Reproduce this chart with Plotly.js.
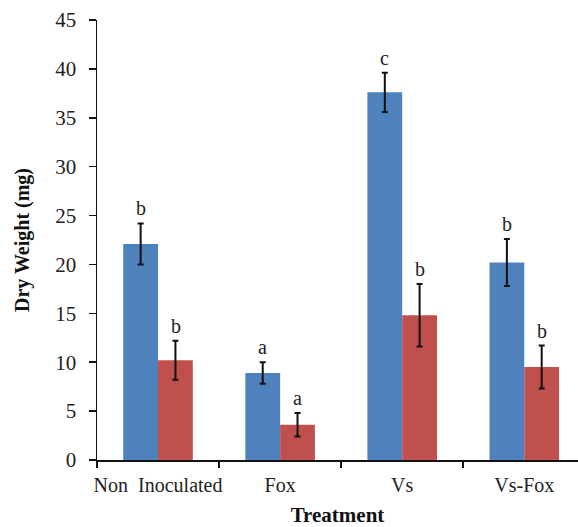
<!DOCTYPE html>
<html>
<head>
<meta charset="utf-8">
<script src="https://cdn.plot.ly/plotly-3.0.1.min.js"></script>
<style>html,body{margin:0;padding:0;background:#fff;}#chart{width:578px;height:527px;}</style>
</head>
<body>
<div id="chart"></div>
<script>
const categories = ["Non  Inoculated", "Fox", "Vs", "Vs-Fox"];
const seriesA = [22.1, 8.9, 37.6, 20.2];
const errorA = [2.1, 1.1, 2.0, 2.4];
const lettersA = ["b", "a", "c", "b"];
const seriesB = [10.2, 3.6, 14.8, 9.5];
const errorB = [2.0, 1.2, 3.2, 2.2];
const lettersB = ["b", "a", "b", "b"];
const yTicks = [0, 5, 10, 15, 20, 25, 30, 35, 40, 45];

const serif = "Liberation Serif, Times New Roman, serif";
const errStyle = {type: "data", visible: true, color: "#111", thickness: 2, width: 3};

const traces = [
  {type: "bar", x: categories, y: seriesA, marker: {color: "#4F81BD"},
   error_y: Object.assign({array: errorA}, errStyle), hoverinfo: "none"},
  {type: "bar", x: categories, y: seriesB, marker: {color: "#C0504D"},
   error_y: Object.assign({array: errorB}, errStyle), hoverinfo: "none"}
];

const annotations = [];
categories.forEach((c, i) => {
  annotations.push({x: i - 0.143, y: seriesA[i] + errorA[i], xref: "x", yref: "y", text: lettersA[i],
    showarrow: false, yanchor: "bottom", yshift: 2, font: {family: serif, size: 20, color: "#222"}});
  annotations.push({x: i + 0.143, y: seriesB[i] + errorB[i], xref: "x", yref: "y", text: lettersB[i],
    showarrow: false, yanchor: "bottom", yshift: 2, font: {family: serif, size: 20, color: "#222"}});
});

const layout = {
  width: 578, height: 527,
  margin: {l: 97, r: 0, t: 20, b: 67},
  paper_bgcolor: "#fff", plot_bgcolor: "#fff",
  showlegend: false,
  barmode: "group",
  bargap: 0.43,
  bargroupgap: 0,
  font: {family: serif, size: 20, color: "#222"},
  xaxis: {
    type: "category",
    range: [-0.5, 3.44],
    tickson: "boundaries",
    tickangle: 0,
    ticks: "outside", ticklen: 6, tickwidth: 1.5, tickcolor: "#111",
    showline: true, linecolor: "#111", linewidth: 1.5,
    showgrid: false, zeroline: false,
    ticklabelstandoff: 6,
    tickfont: {family: serif, size: 20, color: "#222"},
    title: {text: "<b>Treatment</b>", font: {family: serif, size: 21, color: "#111"}, standoff: 14}
  },
  yaxis: {
    range: [0, 45],
    tickvals: yTicks,
    ticktext: yTicks.map(String),
    ticks: "outside", ticklen: 7, tickwidth: 1.5, tickcolor: "#111",
    showline: true, linecolor: "#111", linewidth: 1.5,
    showgrid: false, zeroline: false,
    ticklabelstandoff: 8,
    tickfont: {family: serif, size: 21, color: "#222"},
    title: {text: "<b>Dry Weight (mg)</b>", font: {family: serif, size: 20, color: "#111"}, standoff: 20}
  },
  annotations: annotations
};

Plotly.newPlot("chart", traces, layout, {staticPlot: true, displayModeBar: false});
</script>
</body>
</html>
